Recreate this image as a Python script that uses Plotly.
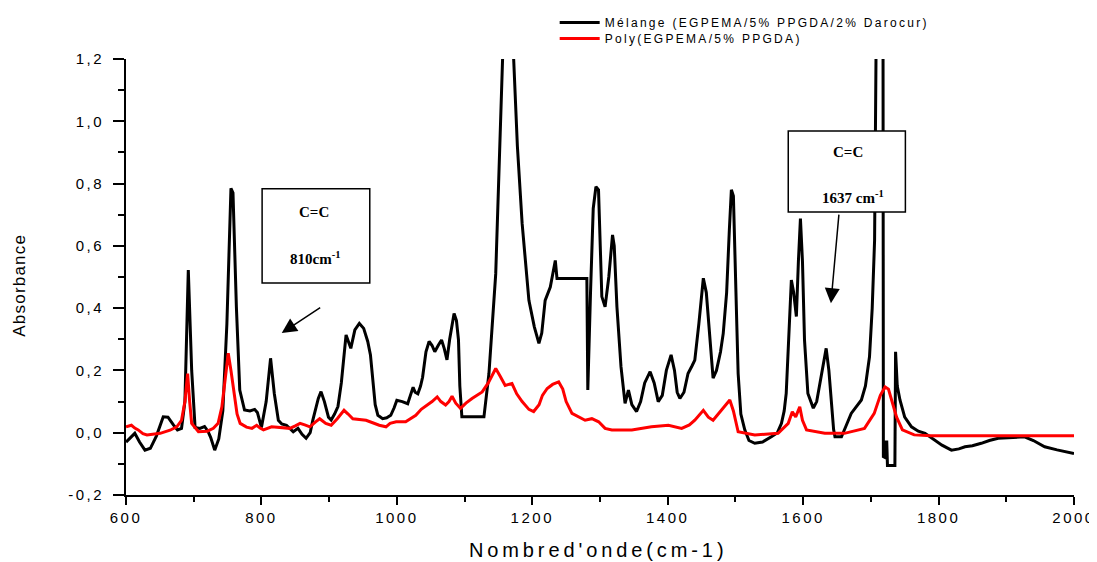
import plotly.graph_objects as go

# Black: Mélange (EGPEMA/5% PPGDA/2% Darocur)
black_x = [600, 613, 620, 628, 636, 645, 655, 662, 670, 676, 682, 687, 692, 697, 702, 709, 716, 721, 725, 731,
           737, 743, 749, 752, 755, 758, 763, 768, 775, 783, 790, 794, 800, 807, 813.5, 819, 825, 830, 837, 847,
           854, 860, 866, 872, 876, 884, 888, 893, 899, 903, 908, 913, 918, 925, 932, 938, 944.6, 951, 957, 961,
           964, 968, 972, 979, 985, 991, 996, 1000, 1008, 1016, 1020, 1024, 1027, 1031, 1035, 1038, 1043, 1047.6,
           1052, 1056, 1061, 1066, 1070, 1074, 1078, 1084.5, 1088, 1091, 1093, 1096, 1128.6, 1136, 1146, 1152,
           1158, 1162, 1168, 1172.5, 1178, 1185, 1195, 1203, 1209.8, 1214, 1219, 1226.6, 1234, 1236.5, 1280.6,
           1282, 1286, 1290, 1294, 1297.8, 1302.7, 1307.5, 1313, 1318.5, 1321, 1325, 1331, 1337, 1342, 1347, 1354,
           1360, 1366, 1374, 1380, 1386, 1392, 1398, 1405, 1410, 1414, 1418, 1424, 1430, 1436, 1440, 1446, 1452.6,
           1457, 1462, 1467, 1472, 1478, 1482, 1487, 1491, 1494, 1497, 1499, 1502, 1504, 1508, 1513.8, 1520,
           1528.6, 1540, 1553, 1562, 1568, 1572, 1575, 1579, 1582.6, 1586, 1590, 1593, 1596, 1599, 1602, 1607,
           1615, 1620, 1624.6, 1630, 1634, 1638, 1642, 1645, 1647, 1656.6, 1663, 1671, 1686, 1692, 1698, 1702,
           1705.5, 1707, 1709, 1716, 1718, 1718.5, 1721, 1722, 1723.5, 1724.5, 1735.5, 1736.5, 1739, 1743, 1750,
           1760, 1770, 1780, 1790, 1805, 1819, 1830, 1839, 1850, 1863, 1875, 1888, 1910, 1927, 1940, 1956.7,
           1975, 1996, 2000]
black_y = [-0.03, -0.002, -0.03, -0.056, -0.05, -0.01, 0.051, 0.05, 0.025, 0.009, 0.014, 0.1, 0.522, 0.2, 0.017,
           0.014, 0.02, 0.005, -0.015, -0.056, -0.02, 0.07, 0.35, 0.6, 0.785, 0.77, 0.405, 0.137, 0.073, 0.07,
           0.075, 0.065, 0.017, 0.1, 0.239, 0.126, 0.04, 0.028, 0.024, 0.003, 0.014, -0.005, -0.018, 0.0, 0.041,
           0.11, 0.132, 0.1, 0.05, 0.041, 0.06, 0.084, 0.16, 0.314, 0.271, 0.33, 0.351, 0.335, 0.293, 0.25, 0.19,
           0.09, 0.056, 0.045, 0.048, 0.056, 0.08, 0.104, 0.1, 0.093, 0.12, 0.146, 0.13, 0.125, 0.15, 0.178, 0.26,
           0.293, 0.28, 0.26, 0.28, 0.298, 0.27, 0.234, 0.3, 0.383, 0.36, 0.298, 0.15, 0.051, 0.051, 0.19, 0.51,
           0.85, 1.2, 1.6, 1.6, 1.2, 0.92, 0.672, 0.425, 0.34, 0.287, 0.32, 0.425, 0.468, 0.553, 0.495, 0.495,
           0.137, 0.45, 0.72, 0.79, 0.78, 0.437, 0.404, 0.5, 0.635, 0.6, 0.404, 0.212, 0.094, 0.137, 0.09, 0.068,
           0.1, 0.16, 0.196, 0.16, 0.1, 0.12, 0.2, 0.25, 0.2, 0.13, 0.11, 0.13, 0.19, 0.215, 0.233, 0.35, 0.496,
           0.45, 0.3, 0.175, 0.2, 0.26, 0.319, 0.45, 0.65, 0.78, 0.76, 0.62, 0.35, 0.19, 0.06, 0.009, -0.025,
           -0.034, -0.03, -0.013, 0.0, 0.03, 0.07, 0.126, 0.3, 0.49, 0.45, 0.373, 0.55, 0.688, 0.55, 0.298, 0.126,
           0.079, 0.1, 0.158, 0.22, 0.271, 0.2, 0.084, 0.01, -0.013, -0.013, 0.02, 0.062, 0.105, 0.15, 0.244, 0.4,
           0.617, 1.2, 1.6, 1.6, 1.2, -0.077, -0.08, -0.03, -0.03, -0.105, -0.105, 0.26, 0.15, 0.105, 0.05, 0.019,
           0.005, -0.002, -0.018, -0.04, -0.056, -0.052, -0.045, -0.042, -0.034, -0.025, -0.018, -0.014, -0.013,
           -0.025, -0.045, -0.055, -0.066, -0.067]

# Red: Poly(EGPEMA/5% PPGDA)
red_x = [600, 608, 613, 618, 625, 631, 650.5, 665, 675, 682, 687, 691, 694, 697, 707, 720, 729, 736, 741.6, 746,
         751, 755, 759, 764, 768.6, 778, 786, 793, 798, 803, 815, 830, 842, 850, 857, 864, 871.5, 880, 886, 895,
         903, 912, 922, 928, 935, 954.5, 965, 974, 984, 990, 999, 1013, 1020, 1028, 1036, 1045, 1052, 1059.6,
         1065, 1072, 1077, 1081.5, 1087, 1094, 1102, 1111, 1126, 1135, 1146, 1153, 1160, 1170, 1177, 1185, 1195,
         1202, 1210, 1215, 1222, 1230, 1239, 1245, 1250, 1258.6, 1268, 1278, 1288, 1298, 1307.5, 1317.5, 1347,
         1376, 1401, 1420.6, 1432, 1440, 1452.6, 1460, 1467, 1478, 1491.7, 1497, 1504, 1528.6, 1563, 1578, 1584,
         1589, 1595, 1599, 1605, 1632, 1661, 1690.6, 1705, 1714, 1721, 1726, 1729.6, 1738, 1746.6, 1764, 1789, 2000]
red_y = [0.019, 0.024, 0.015, 0.009, -0.003, -0.007, -0.002, 0.008, 0.019, 0.04, 0.1, 0.19, 0.1, 0.03, 0.003,
         0.005, 0.014, 0.03, 0.083, 0.17, 0.255, 0.2, 0.137, 0.06, 0.03, 0.018, 0.014, 0.024, 0.015, 0.009, 0.019,
         0.016, 0.014, 0.022, 0.03, 0.025, 0.019, 0.035, 0.045, 0.03, 0.024, 0.045, 0.072, 0.06, 0.045, 0.04, 0.03,
         0.024, 0.019, 0.03, 0.035, 0.035, 0.045, 0.056, 0.075, 0.089, 0.1, 0.115, 0.1, 0.089, 0.1, 0.117, 0.095,
         0.078, 0.095, 0.11, 0.131, 0.16, 0.206, 0.18, 0.152, 0.158, 0.125, 0.1, 0.075, 0.068, 0.09, 0.12, 0.142,
         0.155, 0.163, 0.14, 0.1, 0.062, 0.05, 0.04, 0.045, 0.035, 0.014, 0.009, 0.009, 0.019, 0.024, 0.014, 0.025,
         0.04, 0.072, 0.05, 0.04, 0.07, 0.105, 0.07, 0.003, -0.007, -0.002, 0.03, 0.067, 0.051, 0.083, 0.04, 0.009,
         -0.002, -0.002, 0.014, 0.062, 0.12, 0.147, 0.14, 0.115, 0.05, 0.009, -0.007, -0.01, -0.01]

series_names = ["Mélange (EGPEMA/5% PPGDA/2% Darocur)", "Poly(EGPEMA/5% PPGDA)"]
x_ticks = [600, 800, 1000, 1200, 1400, 1600, 1800, 2000]
y_ticks = [-0.2, 0.0, 0.2, 0.4, 0.6, 0.8, 1.0, 1.2]
y_tick_labels = ["-0,2", "0,0", "0,2", "0,4", "0,6", "0,8", "1,0", "1,2"]
x_title = "Nombred'onde(cm-1)"
y_title = "Absorbance"

fig = go.Figure()
fig.add_trace(go.Scatter(x=black_x, y=black_y, mode="lines", name=series_names[0],
                         line=dict(color="black", width=3)))
fig.add_trace(go.Scatter(x=red_x, y=red_y, mode="lines", name=series_names[1],
                         line=dict(color="#ff0000", width=3)))

font_serif = "Liberation Serif, Times New Roman, serif"
sans = "Liberation Sans, Arial, sans-serif"
# annotation boxes
fig.add_shape(type="rect", x0=801, x1=960, y0=0.481, y1=0.783, xref="x", yref="y",
              line=dict(color="black", width=1.5), fillcolor="white", layer="above")
fig.add_shape(type="rect", x0=1578, x1=1751, y0=0.709, y1=0.969, xref="x", yref="y",
              line=dict(color="black", width=1.5), fillcolor="white", layer="above")
fig.add_annotation(x=877, y=0.709, text="<b>C=C</b>", showarrow=False,
                   font=dict(family=font_serif, size=15, color="black"))
fig.add_annotation(x=879, y=0.561, text="<b>810cm<sup>-1</sup></b>", showarrow=False,
                   font=dict(family=font_serif, size=15, color="black"))
fig.add_annotation(x=1666, y=0.902, text="<b>C=C</b>", showarrow=False,
                   font=dict(family=font_serif, size=15, color="black"))
fig.add_annotation(x=1674, y=0.757, text="<b>1637 cm<sup>-1</sup></b>", showarrow=False,
                   font=dict(family=font_serif, size=15, color="black"))
# arrows
fig.add_annotation(x=830, y=0.32, ax=889, ay=0.405, xref="x", yref="y", axref="x", ayref="y",
                   text="", showarrow=True, arrowhead=2, arrowsize=2.0, arrowwidth=1.5, arrowcolor="black")
fig.add_annotation(x=1641, y=0.416, ax=1653, ay=0.705, xref="x", yref="y", axref="x", ayref="y",
                   text="", showarrow=True, arrowhead=2, arrowsize=2.0, arrowwidth=1.5, arrowcolor="black")
# axis titles
fig.add_annotation(x=0.498, y=-0.126, xref="paper", yref="paper", xanchor="center", yanchor="middle",
                   text=x_title, showarrow=False, font=dict(family=sans, size=20, color="black"))
fig.add_annotation(x=-0.112, y=0.482, xref="paper", yref="paper", xanchor="center", yanchor="middle",
                   text=y_title, showarrow=False, textangle=-90, font=dict(family=sans, size=17, color="black"))

axis_font = dict(family=sans, size=15, color="black")
# the page body has an 8px margin, so the figure is 8px smaller and margins shifted accordingly
fig.update_layout(
    width=1089, height=554,
    margin=dict(l=118, r=23, t=51, b=67, autoexpand=False),
    paper_bgcolor="white", plot_bgcolor="white",
    showlegend=True,
    legend=dict(x=0.502, y=1.009, xref="container", yref="container", xanchor="left", yanchor="top",
                bgcolor="rgba(0,0,0,0)",
                font=dict(family=sans, size=12, color="black"),
                tracegroupgap=0, itemwidth=40),
    xaxis=dict(range=[600, 2000], tickvals=x_ticks, ticktext=[str(v) for v in x_ticks],
               showgrid=False, zeroline=False, showline=True, linecolor="black", linewidth=2,
               ticks="outside", ticklen=8, tickwidth=2, tickcolor="black", automargin=False,
               minor=dict(dtick=100, tick0=600, ticks="outside", ticklen=5, tickwidth=2, tickcolor="black", showgrid=False),
               tickfont=axis_font),
    yaxis=dict(range=[-0.2, 1.2], tickvals=y_ticks, ticktext=y_tick_labels,
               showgrid=False, zeroline=False, showline=True, linecolor="black", linewidth=2,
               ticks="outside", ticklen=11, tickwidth=2, tickcolor="black", automargin=False,
               ticklabelstandoff=6,
               minor=dict(dtick=0.1, tick0=0, ticks="outside", ticklen=6, tickwidth=2, tickcolor="black", showgrid=False),
               tickfont=axis_font),
)

post = """
var gd = document.getElementById('{plot_id}');
function spaceText(){
  document.querySelectorAll('.xtick text, .ytick text').forEach(function(t){ t.style.letterSpacing='2.5px'; });
  document.querySelectorAll('.legendtext').forEach(function(t){ t.style.letterSpacing='2.3px'; });
  document.querySelectorAll('.legend [clip-path]').forEach(function(e){ e.removeAttribute('clip-path'); });
  var tr = document.querySelectorAll('.legend .traces');
  if (tr.length > 1 && !tr[1].getAttribute('data-shifted')) {
    var m = /translate\\(([-\\d.]+)[ ,]+([-\\d.]+)\\)/.exec(tr[1].getAttribute('transform') || '');
    if (m) {
      tr[1].setAttribute('transform', 'translate(' + m[1] + ',' + (parseFloat(m[2]) - 3) + ')');
      tr[1].setAttribute('data-shifted', '1');
    }
  }
  document.querySelectorAll('.annotation-text').forEach(function(t){
    var s = t.textContent;
    if (s.indexOf('Nombre') === 0) { t.style.letterSpacing='3.9px'; }
    else if (s === 'Absorbance') { t.style.letterSpacing='1.2px'; }
  });
}
spaceText();
setTimeout(spaceText, 50);
if (gd && gd.on) { gd.on('plotly_afterplot', spaceText); }
"""

fig.write_html("out.html", post_script=post)
